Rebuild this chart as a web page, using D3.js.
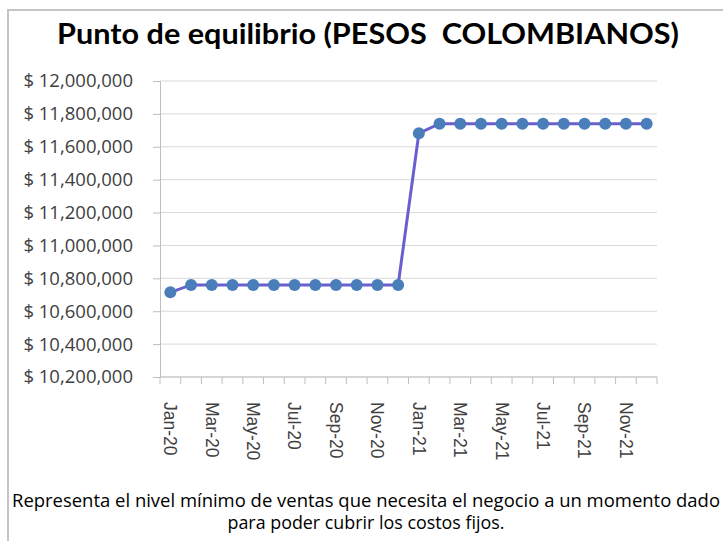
<!DOCTYPE html>
<html>
<head>
<meta charset="utf-8">
<script src="https://cdn.jsdelivr.net/npm/d3@7"></script>
<style>
  body { margin: 0; background: #fff; }
  svg { display: block; }
</style>
</head>
<body>
<div id="main"></div>
<script>
// chart data
const months = ["Jan-20", "Feb-20", "Mar-20", "Apr-20", "May-20", "Jun-20", "Jul-20", "Aug-20",
  "Sep-20", "Oct-20", "Nov-20", "Dec-20", "Jan-21", "Feb-21", "Mar-21", "Apr-21", "May-21",
  "Jun-21", "Jul-21", "Aug-21", "Sep-21", "Oct-21", "Nov-21", "Dec-21"];
const values = [10715000, 10760000, 10760000, 10760000, 10760000, 10760000, 10760000, 10760000,
  10760000, 10760000, 10760000, 10760000, 11682000, 11740000, 11740000, 11740000, 11740000,
  11740000, 11740000, 11740000, 11740000, 11740000, 11740000, 11740000];
const yTicks = [10200000, 10400000, 10600000, 10800000, 11000000, 11200000, 11400000, 11600000, 11800000, 12000000];
const xLabels = ["Jan-20", "Mar-20", "May-20", "Jul-20", "Sep-20", "Nov-20", "Jan-21", "Mar-21", "May-21", "Jul-21", "Sep-21", "Nov-21"];
const title = "Punto de equilibrio (PESOS  COLOMBIANOS)";
const note = ["Representa el nivel mínimo de ventas que necesita el negocio a un momento dado",
  "para poder cubrir los costos fijos."];

const width = 723;
const height = 541;
const plotLeft = 160, plotRight = 657, plotTop = 81, plotBottom = 377;

const svg = d3.select('#main').append('svg')
  .attr('width', width)
  .attr('height', height);

// outer frame of the chart object
svg.append('rect')
  .attr('x', 8).attr('y', 10)
  .attr('width', 730).attr('height', 560)
  .attr('fill', 'none')
  .attr('stroke', '#c4c4c4')
  .attr('stroke-width', 2);

svg.append('text')
  .attr('x', 368).attr('y', 44)
  .attr('text-anchor', 'middle')
  .attr('font-family', 'Lato, sans-serif')
  .attr('font-weight', 'bold')
  .attr('font-size', 29)
  .attr('textLength', 622)
  .attr('lengthAdjust', 'spacingAndGlyphs')
  .attr('fill', '#000')
  .style('white-space', 'pre')
  .text(title);

const x = d3.scaleBand()
  .domain(months)
  .range([plotLeft, plotRight]);
const y = d3.scaleLinear()
  .domain([10200000, 12000000])
  .range([plotBottom, plotTop]);

// gridlines
svg.append('g')
  .selectAll('line')
  .data(yTicks)
  .enter()
  .append('line')
  .attr('x1', plotLeft).attr('x2', plotRight)
  .attr('y1', d => y(d)).attr('y2', d => y(d))
  .attr('stroke', '#d9d9d9')
  .attr('stroke-width', 1);

// y axis
const fmt = d3.format(',');
const yAxis = svg.append('g')
  .attr('transform', `translate(${plotLeft},0)`)
  .call(d3.axisLeft(y).tickValues(yTicks).tickSize(7).tickPadding(20)
    .tickFormat(d => '$ ' + fmt(d)));
yAxis.select('.domain').attr('stroke', '#bfbfbf');
yAxis.selectAll('.tick line').attr('stroke', '#bfbfbf');
yAxis.selectAll('.tick text')
  .attr('font-family', 'Open Sans, sans-serif')
  .attr('font-size', 18.5)
  .attr('fill', '#404040');

// x axis: ticks on category boundaries, labels every other month
const boundaries = months.map(m => x(m)).concat([plotRight]);
const xAxis = svg.append('g');
xAxis.append('line')
  .attr('x1', plotLeft).attr('x2', plotRight)
  .attr('y1', plotBottom).attr('y2', plotBottom)
  .attr('stroke', '#bfbfbf');
xAxis.selectAll('line.tk')
  .data(boundaries)
  .enter()
  .append('line')
  .attr('class', 'tk')
  .attr('x1', d => d).attr('x2', d => d)
  .attr('y1', plotBottom).attr('y2', plotBottom + 7)
  .attr('stroke', '#bfbfbf');
xAxis.selectAll('text')
  .data(xLabels)
  .enter()
  .append('text')
  .attr('transform', d => `translate(${x(d) + x.bandwidth() / 2},${plotBottom + 25}) rotate(90)`)
  .attr('dy', '0.35em')
  .attr('text-anchor', 'start')
  .attr('font-family', 'Liberation Sans, Arial, sans-serif')
  .attr('font-size', 17.5)
  .attr('fill', '#404040')
  .text(d => d);

// series
const points = months.map((m, i) => ({ month: m, value: values[i] }));
const lineGenerator = d3.line()
  .x(d => x(d.month) + x.bandwidth() / 2)
  .y(d => y(d.value));

svg.append('path')
  .datum(points)
  .attr('fill', 'none')
  .attr('stroke', '#6a5fcf')
  .attr('stroke-width', 3)
  .attr('d', lineGenerator);

svg.append('g')
  .selectAll('circle')
  .data(points)
  .enter()
  .append('circle')
  .attr('cx', d => x(d.month) + x.bandwidth() / 2)
  .attr('cy', d => y(d.value))
  .attr('r', 6)
  .attr('fill', '#4a7ebb');

// footnote
const noteWidths = [708, 277];
svg.append('g')
  .selectAll('text')
  .data(note)
  .enter()
  .append('text')
  .attr('x', 366)
  .attr('y', (d, i) => 507 + i * 22)
  .attr('text-anchor', 'middle')
  .attr('font-family', 'Open Sans, sans-serif')
  .attr('font-size', 18)
  .attr('textLength', (d, i) => noteWidths[i])
  .attr('lengthAdjust', 'spacingAndGlyphs')
  .attr('fill', '#000')
  .text(d => d);
</script>
</body>
</html>
